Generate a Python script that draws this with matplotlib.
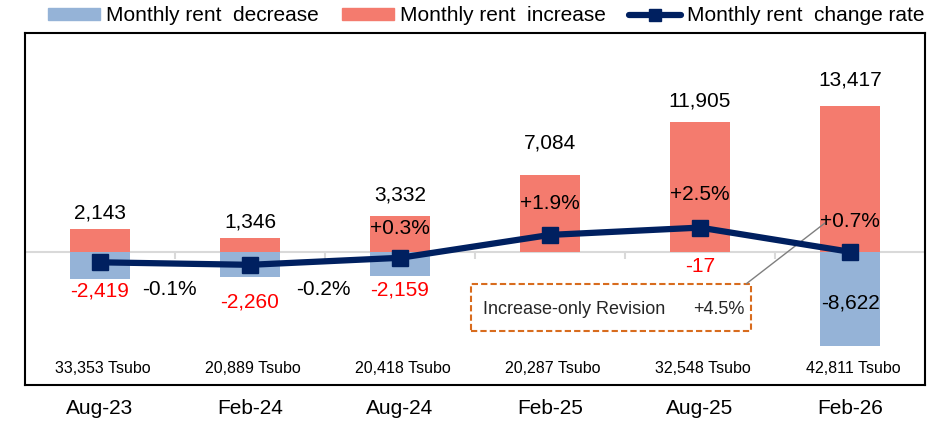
# %% Imports
import numpy as np
import matplotlib.pyplot as plt
from matplotlib.patches import Patch, Rectangle
from matplotlib.lines import Line2D
import matplotlib.transforms as mtransforms

plt.rcParams['font.family'] = ['Liberation Sans', 'DejaVu Sans']

# %% data
periods = ["Aug-23", "Feb-24", "Aug-24", "Feb-25", "Aug-25", "Feb-26"]
rent_increase = [2143, 1346, 3332, 7084, 11905, 13417]
rent_decrease = [-2419, -2260, -2159, 0, -17, -8622]
rate_line = [-1.0, -1.25, -0.55, 1.74, 2.47, 0.05]   # line as drawn in the chart
rate_text = ["-0.1%", "-0.2%", "+0.3%", "+1.9%", "+2.5%", "+0.7%"]
area_tsubo = [33353, 20889, 20418, 20287, 32548, 42811]
revision_label = "Increase-only Revision"
revision_rate = "+4.5%"

# %% layout (hand placed labels, like the source chart)
inc_off_px = [16, 16, 20.5, 32, 21.5, 25.7]
dec_off_px = [-12, -25.4, -14.3, None, -14.2, 43.7]
rate_pos = [(0.46, -3450), (1.49, -3450), (2.0, 2200), (3.0, 4490), (4.0, 5250), (5.0, 2800)]

blue = '#95B3D7'
red = '#F47B6E'
navy = '#002060'

fig = plt.figure(figsize=(9.33, 4.21), dpi=100)
ax = fig.add_axes([25/933, 36/421, 900/933, 352.5/421])
x = np.arange(len(periods))

ax.bar(x, rent_increase, width=0.4, color=red, zorder=2)
ax.bar(x, rent_decrease, width=0.4, color=blue, zorder=2)
ax.axhline(0, color='#D9D9D9', lw=1.5, zorder=1)
ax.vlines(x[:-1] + 0.5, -600, 0, color='#D9D9D9', lw=1.5, zorder=1)

ax.set_xlim(-0.5, 5.5)
ax.set_ylim(-12155, 20135)
ax.set_yticks([])
ax.set_xticks(x)
ax.set_xticklabels(periods, fontsize=15)
ax.tick_params(axis='x', length=0, pad=10)
for s in ax.spines.values():
    s.set_linewidth(1.5)
    s.set_color('black')

for i, v in enumerate(rent_increase):
    ax.annotate(f"{v:,}", (i, v), xytext=(0, inc_off_px[i]), textcoords='offset pixels',
                ha='center', va='center', fontsize=15, color='black')

for i, v in enumerate(rent_decrease):
    if dec_off_px[i] is None:
        continue
    col = 'black' if dec_off_px[i] > 0 else '#FF0000'
    ax.annotate(f"{v:,}", (i, v), xytext=(0, dec_off_px[i]), textcoords='offset pixels',
                ha='center', va='center', fontsize=15, color=col)

for (px, py), t in zip(rate_pos, rate_text):
    ax.text(px, py, t, ha='center', va='center', fontsize=15, color='black', zorder=5)

trans = mtransforms.blended_transform_factory(ax.transData, ax.transAxes)
for i, a in enumerate(area_tsubo):
    ax.text(i + 0.02, 0.047, f"{a:,} Tsubo", transform=trans, ha='center', va='center', fontsize=11.5)

# revision box
box = Rectangle((2.473, -7181), 1.865, 4277, fill=False, edgecolor='#D86C1E', lw=1.5,
                linestyle=(0, (3, 1.5)), zorder=4)
ax.add_patch(box)
ax.text(2.553, -5221, revision_label, ha='left', va='center', fontsize=13, color='#262626')
ax.text(4.30, -5221, revision_rate, ha='right', va='center', fontsize=13, color='#262626')
ax.plot([4.311, 4.833], [-2858, 2684], color='#7F7F7F', lw=1, zorder=4)

# change rate line
ax2 = ax.twinx()
ax2.set_ylim(-12155 / 1000 * 1.0 / 0.9166, 20135 / 1000 * 1.0 / 0.9166)
ax2.plot(x, rate_line, color=navy, lw=4.5, marker='s', markersize=11, zorder=6)
ax2.set_yticks([])
for s in ax2.spines.values():
    s.set_visible(False)

handles = [Patch(color=blue), Patch(color=red),
           Line2D([], [], color=navy, lw=4.5, marker='s', markersize=9, solid_capstyle='round')]
labels = ["Monthly rent  decrease", "Monthly rent  increase", "Monthly rent  change rate"]
fig.legend(handles, labels, loc='center', bbox_to_anchor=(0.521, 0.962), ncol=3, frameon=False,
           fontsize=15, handlelength=2.5, handleheight=0.5, handletextpad=0.3,
           columnspacing=1.1, borderpad=0, borderaxespad=0)

fig.savefig('out.png', dpi=100)
